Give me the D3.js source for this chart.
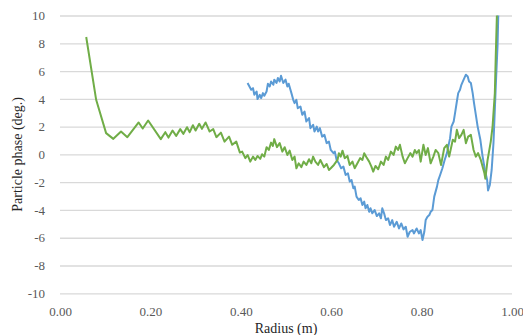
<!DOCTYPE html>
<html>
<head>
<meta charset="utf-8">
<script src="https://cdn.jsdelivr.net/npm/d3@7"></script>
<style>
  body { margin: 0; background: #fff; }
  svg text { font-family: 'Liberation Serif', 'DejaVu Serif', serif !important; }
</style>
</head>
<body>
<div id="chart"></div>
<script>

// green series (radius, phase)
const greenRadius = [0.058, 0.080, 0.102, 0.118, 0.135, 0.149, 0.174, 0.183, 0.195, 0.223,
    0.233, 0.240, 0.249, 0.257, 0.266, 0.273, 0.281, 0.287, 0.294, 0.300,
    0.308, 0.314, 0.322, 0.331, 0.339, 0.346, 0.356, 0.364, 0.374, 0.381,
    0.390, 0.398, 0.403, 0.410, 0.415, 0.421, 0.427, 0.432, 0.437, 0.443,
    0.447, 0.452, 0.457, 0.462, 0.467, 0.471, 0.474, 0.480, 0.486, 0.492,
    0.497, 0.503, 0.508, 0.514, 0.519, 0.523, 0.528, 0.534, 0.539, 0.545,
    0.551, 0.556, 0.560, 0.565, 0.571, 0.576, 0.584, 0.590, 0.595, 0.599,
    0.606, 0.614, 0.617, 0.621, 0.625, 0.630, 0.636, 0.641, 0.647, 0.652,
    0.658, 0.664, 0.669, 0.673, 0.678, 0.684, 0.689, 0.693, 0.698, 0.704,
    0.710, 0.716, 0.721, 0.726, 0.732, 0.738, 0.743, 0.748, 0.752, 0.758,
    0.763, 0.769, 0.775, 0.780, 0.785, 0.789, 0.794, 0.798, 0.804, 0.809,
    0.814, 0.820, 0.826, 0.831, 0.837, 0.843, 0.850, 0.856, 0.861, 0.869,
    0.874, 0.878, 0.883, 0.888, 0.893, 0.898, 0.903, 0.909, 0.915, 0.920,
    0.925, 0.931, 0.939, 0.941, 0.946, 0.953, 0.957, 0.962, 0.964, 0.967];
const greenPhase = [8.45, 3.93, 1.53, 1.12, 1.65, 1.24, 2.30, 1.86, 2.44, 1.10,
    1.60, 1.21, 1.72, 1.33, 1.82, 1.48, 1.96, 1.60, 2.10, 1.72,
    2.20, 1.84, 2.30, 1.65, 1.82, 1.24, 1.57, 0.92, 1.28, 0.69,
    0.92, 0.13, 0.20, -0.27, -0.04, -0.52, -0.16, -0.40, -0.11, -0.32,
    0.01, -0.16, 0.52, 0.32, 0.85, 0.61, 1.10, 0.52, 0.81, 0.20,
    0.52, -0.04, 0.27, -0.40, -0.16, -1.00, -0.64, -0.92, -0.52, -0.76,
    -0.35, -0.64, -0.16, -0.52, -0.76, -0.40, -0.92, -0.69, -1.12, -1.00,
    -0.76, -0.40, 0.09, -0.16, 0.27, -0.27, -0.11, -0.76, -0.52, -1.00,
    -0.64, -0.27, -0.40, 0.09, -0.20, -0.52, -0.88, -1.24, -0.83, -1.07,
    -0.52, -0.76, -0.16, -0.40, 0.20, -0.04, 0.56, 0.32, 0.69, -0.16,
    -0.64, -0.27, 0.09, -0.16, 0.32, 0.09, 0.32, -0.52, 0.69, -0.04,
    0.45, -0.64, -0.16, 0.32, 0.09, -0.76, 0.45, 0.69, -0.16, 1.05,
    0.92, 1.77, 1.17, 1.41, 1.77, 0.81, 1.28, 1.41, 0.32, -0.16,
    0.09, -0.40, -1.36, -1.75, -0.40, 0.92, 2.00, 4.40, 7.00, 10.5];

// blue series (radius, phase)
const blueRadius = [0.415, 0.423, 0.427, 0.430, 0.435, 0.437, 0.442, 0.445, 0.449, 0.452,
    0.457, 0.460, 0.464, 0.467, 0.472, 0.474, 0.479, 0.482, 0.486, 0.489,
    0.494, 0.499, 0.503, 0.506, 0.512, 0.516, 0.519, 0.523, 0.526, 0.532,
    0.536, 0.541, 0.545, 0.551, 0.554, 0.560, 0.563, 0.568, 0.571, 0.575,
    0.580, 0.585, 0.590, 0.595, 0.599, 0.605, 0.608, 0.612, 0.617, 0.622,
    0.627, 0.632, 0.637, 0.641, 0.645, 0.649, 0.652, 0.656, 0.661, 0.665,
    0.669, 0.673, 0.676, 0.680, 0.684, 0.687, 0.691, 0.696, 0.701, 0.706,
    0.710, 0.713, 0.717, 0.721, 0.726, 0.730, 0.735, 0.739, 0.745, 0.750,
    0.755, 0.760, 0.765, 0.769, 0.774, 0.780, 0.783, 0.789, 0.794, 0.798,
    0.802, 0.806, 0.809, 0.813, 0.817, 0.820, 0.824, 0.828, 0.834, 0.837,
    0.841, 0.846, 0.851, 0.856, 0.859, 0.863, 0.866, 0.871, 0.874, 0.878,
    0.881, 0.885, 0.888, 0.893, 0.898, 0.902, 0.905, 0.909, 0.913, 0.916,
    0.920, 0.924, 0.930, 0.935, 0.940, 0.945, 0.947, 0.951, 0.955, 0.959,
    0.962, 0.965, 0.968, 0.970];
const bluePhase = [5.14, 4.65, 4.77, 4.29, 4.53, 3.98, 4.29, 4.05, 4.41, 4.22,
    4.53, 5.09, 4.89, 5.25, 5.01, 5.38, 5.14, 5.50, 5.25, 5.66,
    5.14, 5.38, 4.89, 5.09, 4.41, 3.93, 3.69, 3.93, 3.33, 3.45,
    2.85, 3.09, 2.37, 2.61, 1.89, 2.13, 1.65, 2.00, 1.65, 1.89,
    1.28, 1.41, 0.81, 0.92, 0.32, 0.09, 0.20, -0.40, -0.64, -1.00,
    -0.88, -1.48, -1.36, -1.96, -1.84, -2.44, -2.32, -3.04, -3.28, -3.16,
    -3.64, -3.40, -3.88, -3.64, -4.13, -3.88, -4.24, -4.00, -4.44, -4.24,
    -4.60, -3.88, -4.24, -4.73, -4.60, -5.09, -4.73, -5.21, -4.85, -5.33,
    -4.97, -5.40, -5.21, -5.93, -5.57, -5.45, -5.69, -5.33, -5.69, -5.45,
    -6.17, -5.57, -4.73, -4.49, -4.37, -4.13, -4.00, -3.04, -2.32, -1.85,
    -1.48, -1.00, -0.40, 0.09, 0.56, 1.17, 2.00, 2.37, 2.97, 3.81,
    4.41, 4.65, 5.01, 5.38, 5.74, 5.61, 5.25, 5.14, 4.41, 3.69,
    2.85, 2.00, 1.05, -0.16, -1.12, -1.84, -2.60, -2.20, -1.12, 0.81,
    3.21, 5.61, 7.80, 10.5];

const xTicks = [0, 0.2, 0.4, 0.6, 0.8, 1.0];
const yTicks = [-10, -8, -6, -4, -2, 0, 2, 4, 6, 8, 10];

const width = 523, height = 335;
const margin = {top: 15.5, right: 11, bottom: 41.7, left: 60};
const plotW = width - margin.left - margin.right;
const plotH = height - margin.top - margin.bottom;

const svg = d3.select('#chart')
    .append('svg')
    .attr('width', width)
    .attr('height', height);

const xScale = d3.scaleLinear().domain([0, 1]).range([0, plotW]);
const yScale = d3.scaleLinear().domain([-10, 10]).range([plotH, 0]);

const g = svg.append('g')
    .attr('transform', 'translate(' + margin.left + ',' + margin.top + ')');

// gridlines + y labels
const yAxis = g.append('g')
    .call(d3.axisLeft(yScale).tickValues(yTicks).tickSize(-plotW).tickPadding(15)
        .tickFormat(d => String(d)));
yAxis.select('.domain').remove();
yAxis.selectAll('.tick line').attr('stroke', '#d9d9d9').attr('stroke-width', 1.3);

const xAxis = g.append('g')
    .attr('transform', 'translate(0,' + plotH + ')')
    .call(d3.axisBottom(xScale).tickValues(xTicks).tickSize(0).tickPadding(13)
        .tickFormat(d3.format('.2f')));
xAxis.select('.domain').remove();

g.selectAll('.tick text')
    .attr('font-size', 13)
    .attr('fill', '#595959');

g.append('clipPath').attr('id', 'clip')
    .append('rect').attr('x', -5).attr('y', 0).attr('width', plotW + 10).attr('height', plotH);

const line = d3.line()
    .x(d => xScale(d[0]))
    .y(d => yScale(d[1]));

const greenData = greenRadius.map((r, i) => [r, greenPhase[i]]);
const blueData = blueRadius.map((r, i) => [r, bluePhase[i]]);

const lines = g.append('g').attr('clip-path', 'url(#clip)');

lines.append('path')
    .datum(blueData)
    .attr('fill', 'none')
    .attr('stroke', '#5b9bd5')
    .attr('stroke-width', 2)
    .attr('stroke-linejoin', 'round')
    .attr('d', line);

lines.append('path')
    .datum(greenData)
    .attr('fill', 'none')
    .attr('stroke', '#70ad47')
    .attr('stroke-width', 2)
    .attr('stroke-linejoin', 'round')
    .attr('d', line);

// axis titles
svg.append('text')
    .attr('text-anchor', 'middle')
    .attr('transform', 'translate(22,' + (margin.top + plotH / 2) + ') rotate(-90)')
    .attr('font-size', 14)
    .attr('fill', '#262626')
    .text('Particle phase (deg.)');

svg.append('text')
    .attr('text-anchor', 'middle')
    .attr('x', margin.left + plotW / 2)
    .attr('y', 333)
    .attr('font-size', 14)
    .attr('fill', '#262626')
    .text('Radius (m)');

</script>
</body>
</html>
